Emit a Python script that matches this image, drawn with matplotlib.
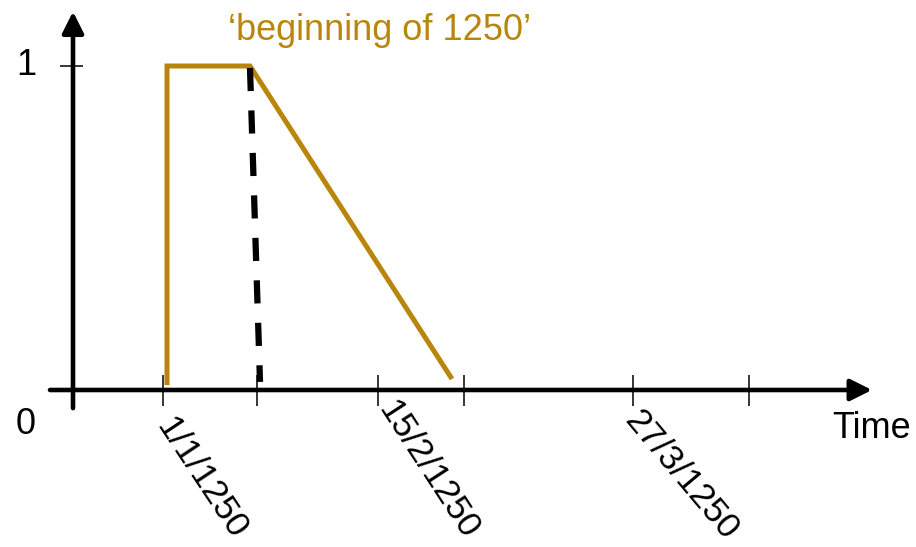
import matplotlib
matplotlib.use("Agg")
import matplotlib.pyplot as plt

plt.rcParams["font.family"] = ["Liberation Sans", "DejaVu Sans"]

# schematic time axis (arbitrary units along the axis)
tick_x = [163, 257, 378, 464, 633, 749]
tick_labels = ["1/1/1250", "", "15/2/1250", "", "27/3/1250", ""]

# membership curve for 'beginning of 1250'
gold_x = [167, 167, 250, 452]
gold_y = [0.015, 1.0, 1.0, 0.034]

# dashed crisp cut
cut_x = [250, 260]
cut_y = [0.994, 0.025]

gold = "#B8860B"

fig = plt.figure(figsize=(9.16, 5.47), dpi=100)
ax = fig.add_axes([0, 0, 1, 1])
ax.set_xlim(0, 916)
ax.set_ylim(-0.4846, 1.2037)
ax.axis("off")

arrow = dict(arrowstyle="-|>,head_length=0.5,head_width=0.25", lw=3.3,
             color="black", mutation_scale=26, shrinkA=0, shrinkB=0)
ax.annotate("", xy=(872, 0), xytext=(50, 0), arrowprops=arrow)
ax.annotate("", xy=(73, 1.168), xytext=(73, -0.056), arrowprops=arrow)

# ticks
ax.vlines(tick_x, -0.05, 0.045, color="black", lw=1.1)
ax.hlines(1, 60, 83, color="black", lw=1.1)

# rotated labels, anchored at their lower end (x shift, angle)
label_layout = {"1/1/1250": (76, -56.5), "15/2/1250": (93, -57),
                "27/3/1250": (99, -50)}
for x, lab in zip(tick_x, tick_labels):
    if lab:
        dx, rot = label_layout[lab]
        ax.text(x + dx, -0.45, lab, rotation=rot, rotation_mode="anchor",
                ha="right", va="center", fontsize=25.5)

ax.text(26, 1.0, "1", fontsize=26, ha="center", va="center")
ax.text(26, -0.105, "0", fontsize=26, ha="center", va="center")
ax.text(872, -0.12, "Time", fontsize=26, ha="center", va="center")

ax.plot(gold_x, gold_y, color=gold, lw=3.6, solid_joinstyle="miter",
        solid_capstyle="butt")
ax.plot(cut_x, cut_y, color="black", lw=4.5, dashes=(3.7, 3.1))

ax.text(380, 1.11, "\u2018beginning of 1250\u2019", color=gold, fontsize=26,
        ha="center", va="center")

fig.savefig("out.png", dpi=100)
